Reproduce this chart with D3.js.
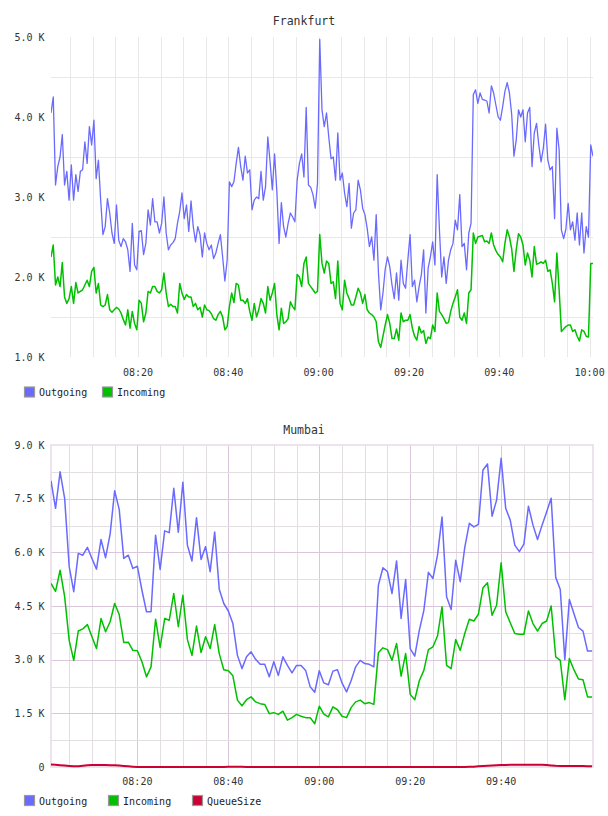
<!DOCTYPE html>
<html><head><meta charset="utf-8">
<script src="https://cdn.jsdelivr.net/npm/d3@7"></script>
<style>
body{margin:0;background:#fff}
svg{display:block}
text{font-family:"DejaVu Sans Mono","Liberation Mono",monospace}
</style>
</head><body>
<svg id="c" width="608" height="816"></svg>
<script>
// ---------------- DATA ----------------
const frankfurtStart = new Date(2020, 0, 1, 8, 0, 45);
const frankfurtEnd = new Date(2020, 0, 1, 10, 0, 45);
const frankfurtStepSec = 30;
const frankfurtOutgoing = [
4050,4250,3150,3380,3500,3780,3150,3320,2960,3400,
2960,3280,3070,3320,3340,3690,3420,3880,3650,3960,
3230,3460,2960,2530,2630,2980,2800,2550,2420,2900,
2460,2380,2480,2440,2340,2070,2670,2150,2090,2570,
2580,2280,2420,2840,2650,2980,2690,2690,2550,2670,
3000,2550,2340,2400,2430,2480,2670,2820,3050,2730,
2900,2570,2950,2630,2440,2630,2530,2250,2550,2420,
2340,2400,2230,2300,2420,2530,2250,1950,2210,3190,
3130,3190,3420,3620,3380,3210,3510,3300,3340,2840,
2960,3000,2980,3320,2960,3130,3750,3440,3090,3540,
3070,2420,2930,2630,2500,2670,2800,2750,2690,3210,
3420,3540,3250,4120,3150,3120,3030,2860,3170,4970,
4090,3880,4050,3750,3480,3500,3210,3800,3210,3300,
3050,2880,3170,2610,2800,2840,3210,3090,2860,2780,
2610,2380,2500,2210,2780,2050,1590,1800,2100,2250,
2130,1900,1730,2050,1710,2210,1920,1860,2210,2530,
1880,1960,1690,1880,2030,2340,1550,2110,2250,2440,
2150,3280,2590,2000,2250,1920,2210,2340,2420,2710,
2590,3030,2380,2420,2090,2550,2670,4280,4340,4170,
4300,4220,4210,4200,4050,4390,4300,4150,4000,3960,
4130,4320,4430,4300,4030,3510,3710,4090,4000,4090,
3690,4050,4120,3380,3800,3920,3650,3440,3610,3910,
3460,3340,3380,2730,3860,3590,2590,2480,2600,2920,
2590,2690,2460,2800,2400,2800,2300,2630,2500,3650,3510
];
const frankfurtIncoming = [
2250,2400,1900,2000,1880,2180,1750,1670,1730,1880,
1670,1930,1800,1820,1840,1900,1960,1880,2070,2120,
1800,1920,1650,1630,1650,1780,1590,1560,1590,1620,
1600,1550,1470,1400,1590,1360,1570,1420,1340,1710,
1670,1440,1550,1820,1800,1880,1880,1820,1800,1840,
2050,1800,1630,1660,1630,1630,1550,1920,1800,1720,
1780,1750,1750,1630,1670,1590,1620,1500,1650,1590,
1580,1540,1480,1460,1530,1570,1500,1340,1380,1630,
1800,1680,1920,1900,1710,1710,1670,1730,1570,1460,
1670,1500,1590,1730,1670,1550,1880,1710,1800,1920,
1530,1340,1610,1420,1440,1480,1690,1630,1590,2030,
2000,1880,2170,2250,1920,1880,1840,1800,1820,2530,
2170,2050,2200,2170,1920,1940,1730,2200,1670,1590,
1960,1800,1730,1650,1650,1750,1860,1800,1670,1780,
1590,1550,1530,1500,1440,1190,1120,1260,1400,1530,
1420,1230,1230,1350,1210,1550,1440,1460,1460,1530,
1360,1260,1210,1380,1300,1330,1170,1250,1230,1400,
1320,1800,1570,1530,1480,1420,1430,1570,1670,1750,
1840,1500,1460,1550,1420,1800,1840,2550,2420,2500,
2510,2520,2440,2450,2420,2550,2400,2330,2280,2250,
2190,2420,2590,2500,2350,2070,2340,2540,2500,2400,
2150,2300,2210,2000,2380,2160,2170,2190,2170,2210,
2070,2090,1920,1690,2300,1840,1320,1350,1380,1400,
1400,1320,1340,1260,1200,1340,1320,1260,1250,2170,2170
];

const mumbaiStart = new Date(2020, 0, 1, 8, 1, 0);
const mumbaiEnd = new Date(2020, 0, 1, 10, 0, 12);
const mumbaiStepSec = 60;
const mumbaiOutgoing = [
8000,7230,8250,7510,5600,4900,5970,5920,6140,5830,
5530,6360,5850,6510,7720,7200,5830,5920,5550,5610,
4940,4340,4340,6480,5520,6600,6550,7790,6560,7960,
6200,5760,6970,5800,6160,5460,6570,4970,4570,4360,
4010,3120,2750,3080,3220,3010,2870,2870,2520,2940,
2560,3080,2840,2630,2840,2840,2700,2240,2090,2690,
2350,2300,2680,2720,2350,2100,2410,2800,2980,2890,
2870,2800,5080,5570,5460,4850,5760,4150,5240,3310,
3100,3820,4380,5440,5270,5920,6990,4760,4400,5780,
5180,6140,6810,6710,6780,8300,8470,7010,7460,8630,
7230,6900,6200,6020,6230,7290,6760,6360,6760,7130,
7510,5300,4960,3000,4680,4290,3900,3800,3240,3240
];
const mumbaiIncoming = [
5130,4910,5500,4760,3540,2980,3800,3860,3980,3640,
3310,4150,3780,4060,4570,4260,3480,3490,3260,3250,
2940,2520,2800,4130,3340,4150,4100,4850,3920,4800,
3560,3120,3940,3200,3640,3310,3980,3170,2720,2690,
2550,1870,1710,1880,1960,1820,1770,1750,1490,1520,
1470,1560,1310,1380,1470,1420,1380,1380,1210,1700,
1480,1400,1680,1600,1420,1380,1660,1820,1870,1770,
1800,1750,3190,3330,3280,2980,3450,2540,3170,2030,
1880,2410,2700,3280,3360,3660,4480,2840,2750,3560,
3260,3730,4130,4080,4270,5010,5150,4240,4520,5710,
4340,4030,3730,3710,3710,4360,4010,3800,4010,4080,
4500,3080,2980,1880,3030,2720,2460,2440,1960,1960
];
const mumbaiQueueSize = [
68,60,50,40,30,22,20,35,50,56,
56,56,55,52,48,40,30,20,10,2,
0,0,0,0,0,0,0,0,0,0,
0,0,0,0,0,0,0,0,0,5,
10,10,5,0,0,0,0,0,0,0,
0,0,0,0,0,0,0,0,0,0,
0,0,0,0,0,0,0,0,0,0,
0,0,0,0,0,0,0,0,0,0,
0,0,0,0,0,0,0,0,0,0,
0,2,5,10,18,28,38,45,50,55,
58,60,62,62,64,65,65,64,60,55,
45,35,30,28,26,25,25,25,24,22
];

const frankfurtTimeTicks = ["08:20","08:40","09:00","09:20","09:40","10:00"];
const mumbaiTimeTicks = ["08:20","08:40","09:00","09:20","09:40"];
const frankfurtYTicks = [1000,2000,3000,4000,5000];
const frankfurtYGrid = [1500,2500,3500,4500];
const mumbaiYTicks = [0,1500,3000,4500,6000,7500,9000];
const mumbaiYMinor = [750,2250,3750,5250,6750,8250];

const colors = {Outgoing:"#6a6aff", Incoming:"#00c000", QueueSize:"#cc0033"};

// ---------------- DRAW ----------------
const svg = d3.select("#c");
const fmtTime = d3.timeFormat("%H:%M");
const parseHM = (s) => { const [h,m] = s.split(":").map(Number); return new Date(2020,0,1,h,m,0); };
const fmtK = v => v === 0 ? "0" : (v/1000).toFixed(1) + " K";

function seriesPoints(values, start, stepSec){
  return values.map((v,i) => ({t: new Date(start.getTime() + i*stepSec*1000), v}));
}

function drawChart(cfg){
  const g = svg.append("g");
  const x = d3.scaleTime().domain(cfg.xDomain).range([cfg.left, cfg.right]);
  const y = d3.scaleLinear().domain(cfg.yDomain).range([cfg.bottom, cfg.top]);

  // grid
  const fiveMin = d3.timeMinute.every(5).range(cfg.xDomain[0], new Date(cfg.xDomain[1].getTime()+1));
  fiveMin.forEach(t => {
    const major = cfg.majorColor && t.getMinutes() % 20 === 0;
    const xx = Math.round(x(t)) + 0.5;
    if (xx > cfg.right - 1.5) return;
    g.append("line").attr("x1", xx).attr("x2", xx).attr("y1", cfg.top).attr("y2", cfg.bottom)
      .attr("stroke", major ? cfg.majorColor : cfg.minorColor).attr("stroke-width", 1);
  });
  (cfg.yMinor || []).forEach(v => {
    const yy = Math.round(y(v)) + 0.5;
    g.append("line").attr("x1", cfg.left).attr("x2", cfg.right).attr("y1", yy).attr("y2", yy)
      .attr("stroke", cfg.minorColor).attr("stroke-width", 1);
  });
  (cfg.yMajor || []).forEach(v => {
    const yy = Math.round(y(v)) + 0.5;
    g.append("line").attr("x1", cfg.left).attr("x2", cfg.right).attr("y1", yy).attr("y2", yy)
      .attr("stroke", cfg.majorColor).attr("stroke-width", 1);
  });
  if (cfg.borderColor){
    g.append("rect").attr("x", cfg.left).attr("y", cfg.top)
      .attr("width", cfg.right - cfg.left).attr("height", cfg.bottom - cfg.top)
      .attr("fill", "none").attr("stroke", cfg.borderColor).attr("stroke-width", 1.5);
  }

  // axis labels
  cfg.yTicks.forEach(v => {
    g.append("text").attr("x", 44.5).attr("y", y(v) + 3.5).attr("text-anchor", "end")
      .attr("font-size", 10).attr("fill", "#333").text(fmtK(v));
  });
  cfg.xTicks.forEach(s => {
    const t = parseHM(s);
    g.append("text").attr("x", x(t)).attr("y", cfg.bottom + cfg.xLabelDy).attr("text-anchor", "middle")
      .attr("font-size", 10).attr("fill", "#333").text(fmtTime(t));
  });

  // title
  g.append("text").attr("x", 304).attr("y", cfg.titleY).attr("text-anchor", "middle")
    .attr("font-size", 11.5).attr("fill", "#333").text(cfg.title);

  // lines
  const clipId = "clip" + cfg.title;
  svg.append("clipPath").attr("id", clipId).append("rect")
    .attr("x", cfg.left).attr("y", cfg.top - 2).attr("width", cfg.right - cfg.left).attr("height", cfg.bottom - cfg.top + 3);
  const line = d3.line().x(d => x(d.t)).y(d => y(d.v));
  cfg.series.forEach(s => {
    g.append("path").datum(seriesPoints(s.values, cfg.start, cfg.stepSec))
      .attr("d", line).attr("fill", "none").attr("stroke", colors[s.name])
      .attr("stroke-width", s.width || 1.5).attr("stroke-linejoin", "round")
      .attr("clip-path", `url(#${clipId})`);
  });

  // legend
  cfg.series.forEach((s, i) => {
    const lx = cfg.legendX[i];
    g.append("rect").attr("x", lx + 0.5).attr("y", cfg.legendY + 0.5).attr("width", 10).attr("height", 10)
      .attr("fill", colors[s.name]).attr("stroke", "#999").attr("stroke-width", 1.2);
    g.append("text").attr("x", lx + 15).attr("y", cfg.legendY + 9.5)
      .attr("font-size", 10).attr("fill", "#222").text(s.name);
  });
}

drawChart({
  title: "Frankfurt", titleY: 25,
  left: 51, right: 593, top: 37, bottom: 357,
  xDomain: [frankfurtStart, frankfurtEnd], yDomain: [1000, 5000],
  start: frankfurtStart, stepSec: frankfurtStepSec,
  minorColor: "#e8e8e8", majorColor: null, borderColor: null,
  yMinor: frankfurtYGrid, yMajor: [],
  yTicks: frankfurtYTicks, xTicks: frankfurtTimeTicks, xLabelDy: 19,
  series: [{name: "Outgoing", values: frankfurtOutgoing, width: 1.3},
           {name: "Incoming", values: frankfurtIncoming, width: 1.5}],
  legendX: [24, 102], legendY: 386.5
});

drawChart({
  title: "Mumbai", titleY: 434,
  left: 51, right: 593, top: 445, bottom: 767,
  xDomain: [mumbaiStart, mumbaiEnd], yDomain: [0, 9000],
  start: mumbaiStart, stepSec: mumbaiStepSec,
  minorColor: "#e2dee2", majorColor: "#dcc6dc", borderColor: "#ead9ea",
  yMinor: mumbaiYMinor, yMajor: mumbaiYTicks.filter(v => v > 0 && v < 9000),
  yTicks: mumbaiYTicks, xTicks: mumbaiTimeTicks, xLabelDy: 18,
  series: [{name: "Outgoing", values: mumbaiOutgoing, width: 1.5},
           {name: "Incoming", values: mumbaiIncoming, width: 1.5},
           {name: "QueueSize", values: mumbaiQueueSize, width: 2}],
  legendX: [24, 108, 192], legendY: 795
});
</script>
</body></html>
